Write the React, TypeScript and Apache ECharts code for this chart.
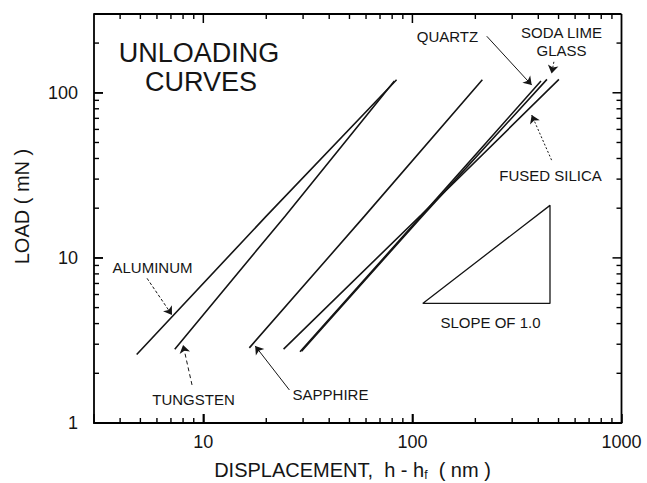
import React, { useEffect, useRef } from 'react';
import * as echarts from 'echarts';

// ---- data (log-log) ----
const aluminumX = [4.8, 20, 84];
const aluminumY = [2.6, 17.9, 120];
const tungstenX = [7.3, 24.6, 82];
const tungstenY = [2.8, 17.9, 118];
const sapphireX = [16.6, 59, 216];
const sapphireY = [2.85, 17.9, 120];
const quartzX = [29, 110, 412];
const quartzY = [2.7, 17.9, 118];
const sodaLimeX = [29.5, 110, 440];
const sodaLimeY = [2.72, 17.6, 120.5];
const fusedSilicaX = [24.2, 110, 502];
const fusedSilicaY = [2.8, 18.2, 120.5];

const slopeTriangleX = [112, 455, 455, 112];
const slopeTriangleY = [5.3, 20.8, 5.3, 5.3];

// annotation arrows [from, to] in data space
const aluminumArrow = [[5.38, 7.52], [7.08, 4.51]];
const tungstenArrow = [[8.83, 1.7], [8.0, 2.97]];
const sapphireArrow = [[25.8, 1.585], [17.7, 2.93]];
const quartzArrow = [[226.8, 220], [372, 111.3]];
const sodaLimeArrow = [[475, 154], [463, 131]];
const fusedSilicaArrow = [[463, 39.1], [372, 73.3]];

const xMin = 3;
const xMax = 1000;
const yMin = 1;
const yMax = 300;
const xMajorLabels = [10, 100, 1000];
const yMajorLabels = [1, 10, 100];
const xMajorTicks = [10, 100];
const yMajorTicks = [10, 100];
const xMinorTicks = [4, 5, 6, 7, 8, 9, 20, 30, 40, 50, 60, 70, 80, 90, 200, 300, 400, 500, 600, 700, 800, 900];
const yMinorTicks = [2, 3, 4, 5, 6, 7, 8, 9, 20, 30, 40, 50, 60, 70, 80, 90, 200];

const INK = '#151515';
const TICK = '#000000';
const FONT = 'Liberation Sans, Arial, Helvetica, sans-serif';

function pairs(xs: number[], ys: number[]) {
  return xs.map((x, i) => [x, ys[i]]);
}

function labelFmt(list: number[]) {
  return (v: number) => {
    const hit = list.find((m) => Math.abs(Math.log10(v) - Math.log10(m)) < 1e-6);
    return hit !== undefined ? String(hit) : '';
  };
}

function arrowSeries(coords: number[][], dash: any) {
  return {
    type: 'line',
    data: [],
    markLine: {
      silent: true,
      symbol: ['none', 'arrow'],
      symbolSize: 8,
      label: { show: false },
      lineStyle: { color: INK, width: 1, type: dash, opacity: 1 },
      itemStyle: { color: INK },
      data: [[{ coord: coords[0] }, { coord: coords[1] }]],
    },
  };
}

function curve(name: string, xs: number[], ys: number[]) {
  return {
    name,
    type: 'line',
    data: pairs(xs, ys),
    showSymbol: false,
    symbol: 'none',
    lineStyle: { color: INK, width: 1.6 },
  };
}

function txt(text: string, x: number, y: number, fontSize: number) {
  return {
    type: 'text',
    x,
    y,
    z: 20,
    style: { text, fontSize, fontFamily: FONT, fill: INK, align: 'center', verticalAlign: 'middle' },
  };
}

const textGraphics: any[] = [
  txt('UNLOADING', 199, 53, 27),
  txt('CURVES', 201, 82, 27),
  txt('ALUMINUM', 152.5, 267.5, 15),
  txt('TUNGSTEN', 193.5, 399.5, 15),
  txt('SAPPHIRE', 330.5, 394, 15),
  txt('QUARTZ', 447.5, 36.5, 15),
  txt('SODA LIME', 561.5, 32.5, 15),
  txt('GLASS', 561.5, 50, 15),
  txt('FUSED SILICA', 550.5, 175, 15),
  txt('SLOPE OF 1.0', 490.5, 322, 15),
  {
    type: 'text',
    x: 21.5,
    y: 206.5,
    rotation: Math.PI / 2,
    z: 20,
    style: { text: 'LOAD ( mN )', fontSize: 20, fontFamily: FONT, fill: INK, align: 'center', verticalAlign: 'middle' },
  },
  {
    type: 'text',
    x: 352.5,
    y: 470,
    z: 20,
    style: {
      text: 'DISPLACEMENT,  h - h{s|f}  ( nm )',
      fontSize: 20,
      fontFamily: FONT,
      fill: INK,
      align: 'center',
      verticalAlign: 'middle',
      rich: {
        s: { fontSize: 12, fontFamily: FONT, fill: INK, padding: [10, 0, 0, 0] },
      },
    },
  },
];

export default function App() {
  const ref = useRef<HTMLDivElement>(null);

  useEffect(() => {
    if (!ref.current) return;
    const chart = echarts.init(ref.current, undefined, { renderer: 'svg' });

    const option: any = {
      animation: false,
      grid: { left: 94, right: 25.5, top: 14, bottom: 60 },
      xAxis: {
        type: 'log',
        min: xMin,
        max: xMax,
        splitLine: { show: false },
        axisLine: { show: true, lineStyle: { color: TICK, width: 1.8 } },
        axisTick: { show: true, inside: true, length: 9, lineStyle: { color: TICK, width: 1.5 } },
        axisLabel: {
          formatter: labelFmt(xMajorLabels),
          fontSize: 18,
          color: INK,
          fontFamily: FONT,
          margin: 10,
        },
      },
      yAxis: {
        type: 'log',
        min: yMin,
        max: yMax,
        splitLine: { show: false },
        axisLine: { show: true, lineStyle: { color: TICK, width: 1.8 } },
        axisTick: { show: true, inside: true, length: 9, lineStyle: { color: TICK, width: 1.5 } },
        axisLabel: {
          formatter: labelFmt(yMajorLabels),
          fontSize: 18,
          color: INK,
          fontFamily: FONT,
          margin: 16,
        },
      },
      series: [
        curve('Aluminum', aluminumX, aluminumY),
        curve('Tungsten', tungstenX, tungstenY),
        curve('Sapphire', sapphireX, sapphireY),
        curve('Quartz', quartzX, quartzY),
        curve('Soda lime glass', sodaLimeX, sodaLimeY),
        curve('Fused silica', fusedSilicaX, fusedSilicaY),
        {
          name: 'Slope of 1.0',
          type: 'line',
          data: pairs(slopeTriangleX, slopeTriangleY),
          showSymbol: false,
          symbol: 'none',
          lineStyle: { color: INK, width: 1.3 },
        },
        arrowSeries(aluminumArrow, [3, 2]),
        arrowSeries(tungstenArrow, [4, 3]),
        arrowSeries(sapphireArrow, 'solid'),
        arrowSeries(quartzArrow, 'solid'),
        arrowSeries(sodaLimeArrow, [2, 2]),
        arrowSeries(fusedSilicaArrow, [2, 2]),
      ],
    };

    chart.setOption(option);

    // frame: ticks on all four sides and the top / right border lines,
    // positioned through the chart's own log scales
    const toPx = (x: number, y: number) =>
      chart.convertToPixel({ gridIndex: 0 } as any, [x, y]) as number[];
    const frame: any[] = [];
    const ln = (x1: number, y1: number, x2: number, y2: number, w: number) => {
      frame.push({
        type: 'line',
        z: 30,
        silent: true,
        shape: { x1, y1, x2, y2 },
        style: { stroke: TICK, lineWidth: w },
      });
    };
    const bl = toPx(xMin, yMin);
    const tr = toPx(xMax, yMax);
    if (bl && tr) {
      const left = bl[0];
      const bottom = bl[1];
      const right = tr[0];
      const top = tr[1];
      ln(left, top, right, top, 1.8);
      ln(right, top, right, bottom, 1.8);
      const minorLen = 5;
      const majorLen = 9;
      xMinorTicks.forEach((v) => {
        const px = toPx(v, yMin)[0];
        ln(px, bottom, px, bottom - minorLen, 1.4);
        ln(px, top, px, top + minorLen, 1.4);
      });
      xMajorTicks.forEach((v) => {
        const px = toPx(v, yMin)[0];
        ln(px, bottom, px, bottom - majorLen, 1.5);
        ln(px, top, px, top + majorLen, 1.5);
      });
      yMinorTicks.forEach((v) => {
        const py = toPx(xMin, v)[1];
        ln(left, py, left + minorLen, py, 1.4);
        ln(right, py, right - minorLen, py, 1.4);
      });
      yMajorTicks.forEach((v) => {
        const py = toPx(xMin, v)[1];
        ln(left, py, left + majorLen, py, 1.5);
        ln(right, py, right - majorLen, py, 1.5);
      });
    }

    chart.setOption({ graphic: [...textGraphics, ...frame] });

    return () => chart.dispose();
  }, []);

  return (
    <div
      ref={ref}
      style={{ position: 'fixed', left: 0, top: 0, width: 647, height: 483, background: '#fff' }}
    />
  );
}
